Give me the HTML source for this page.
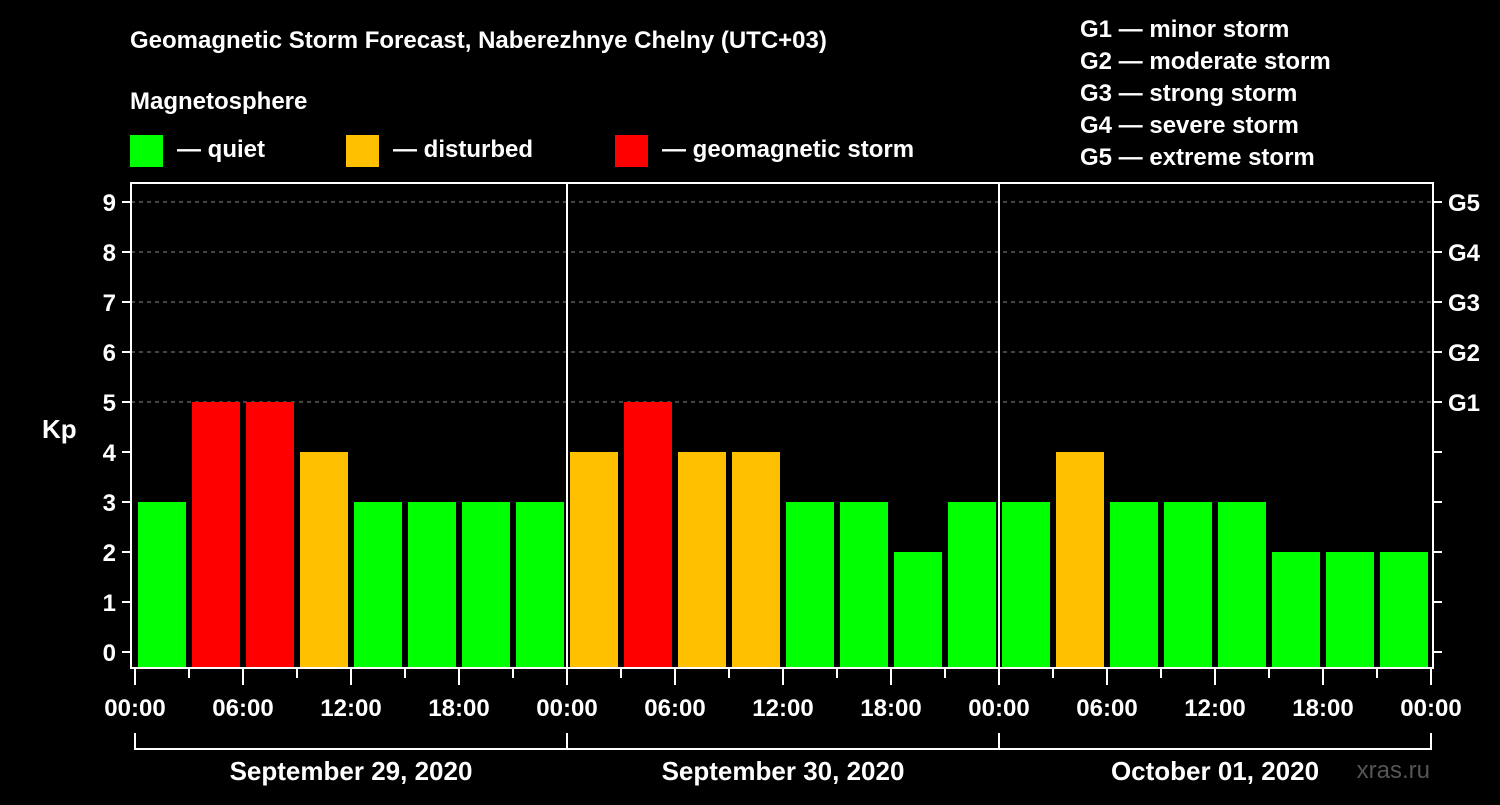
<!DOCTYPE html>
<html><head><meta charset="utf-8"><style>
body{margin:0;background:#000;width:1500px;height:800px;overflow:hidden}
svg text{font-family:"Liberation Sans",sans-serif;font-weight:bold;fill:#fff}
</style></head><body>
<svg id="c" width="1500" height="800">
<text x="130" y="48" font-size="24">Geomagnetic Storm Forecast, Naberezhnye Chelny (UTC+03)</text>
<text x="130" y="109" font-size="24">Magnetosphere</text>
<g><rect x="130" y="135" width="33" height="32" fill="#00ff00"/><text x="177" y="157" font-size="24">— quiet</text></g>
<g><rect x="346" y="135" width="33" height="32" fill="#ffc000"/><text x="393" y="157" font-size="24">— disturbed</text></g>
<g><rect x="615" y="135" width="33" height="32" fill="#ff0000"/><text x="662" y="157" font-size="24">— geomagnetic storm</text></g>
<g font-size="24">
<text x="1080" y="37">G1 — minor storm</text><text x="1080" y="69">G2 — moderate storm</text><text x="1080" y="101">G3 — strong storm</text><text x="1080" y="133">G4 — severe storm</text><text x="1080" y="165">G5 — extreme storm</text></g>
<text x="42" y="438" font-size="26">Kp</text>
<text x="1430" y="778" font-size="24" text-anchor="end" fill="#555" style="fill:#555;font-weight:normal">xras.ru</text>
<g id="grid"></g><g id="bars"></g><g id="axes"></g>
</svg>
<script>
const values=[3,5,5,4,3,3,3,3, 4,5,4,4,3,3,2,3, 3,4,3,3,3,2,2,2];
const yTicks=[0,1,2,3,4,5,6,7,8,9];
const gLabels=["G1","G2","G3","G4","G5"];
const xLabels=["00:00","06:00","12:00","18:00"];
const dayLabels=["September 29, 2020","September 30, 2020","October 01, 2020"];
const NS="http://www.w3.org/2000/svg";
const X0=135,DAYW=432,N=values.length,SLOT=DAYW/8;
const xs=i=>X0+i*SLOT;
const ys=v=>652-50*v;
function mk(t,a,p){const e=document.createElementNS(NS,t);for(const k in a)e.setAttribute(k,a[k]);p.appendChild(e);return e;}
const grid=document.getElementById('grid'),bars=document.getElementById('bars'),axes=document.getElementById('axes');
const color=v=>v>=5?'#ff0000':v>=4?'#ffc000':'#00ff00';
for(let v=5;v<=9;v++){const l=mk('line',{x1:131,x2:1433,y1:ys(v),y2:ys(v),stroke:'#888','stroke-dasharray':'4,4','stroke-width':1},grid);

}
values.forEach((v,i)=>{const r=mk('rect',{x:xs(i)+3,y:ys(v),width:SLOT-6,height:667-ys(v),fill:color(v)},bars);

});
mk('rect',{x:131,y:183,width:1302,height:485,fill:'none',stroke:'#fff','stroke-width':2},axes);
for(let d=1;d<3;d++){mk('line',{x1:X0+d*DAYW,x2:X0+d*DAYW,y1:183,y2:668,stroke:'#fff','stroke-width':2},axes);}
yTicks.forEach(v=>{mk('line',{x1:122,x2:131,y1:ys(v),y2:ys(v),stroke:'#fff','stroke-width':2},axes);
mk('line',{x1:1433,x2:1442,y1:ys(v),y2:ys(v),stroke:'#fff','stroke-width':2},axes);
const t=mk('text',{x:116,y:ys(v)+9,'font-size':24,'text-anchor':'end'},axes);t.textContent=v;

});
gLabels.forEach((g,i)=>{const t=mk('text',{x:1448,y:ys(5+i)+9,'font-size':24},axes);t.textContent=g;

});
for(let i=0;i<=N;i++){const major=i%2==0;mk('line',{x1:xs(i),x2:xs(i),y1:669,y2:major?685:678,stroke:'#fff','stroke-width':2},axes);
if(major){const t=mk('text',{x:xs(i),y:716,'font-size':24,'text-anchor':'middle'},axes);t.textContent=xLabels[(i/2)%4];

}}
dayLabels.forEach((d,i)=>{const a=X0+i*DAYW;
mk('line',{x1:a,x2:a+DAYW,y1:749,y2:749,stroke:'#fff','stroke-width':2},axes);
mk('line',{x1:a,x2:a,y1:733,y2:750,stroke:'#fff','stroke-width':2},axes);
const t=mk('text',{x:a+DAYW/2,y:780,'font-size':26,'text-anchor':'middle'},axes);t.textContent=d;

});
mk('line',{x1:X0+3*DAYW,x2:X0+3*DAYW,y1:733,y2:750,stroke:'#fff','stroke-width':2},axes);
</script>
</body></html>
